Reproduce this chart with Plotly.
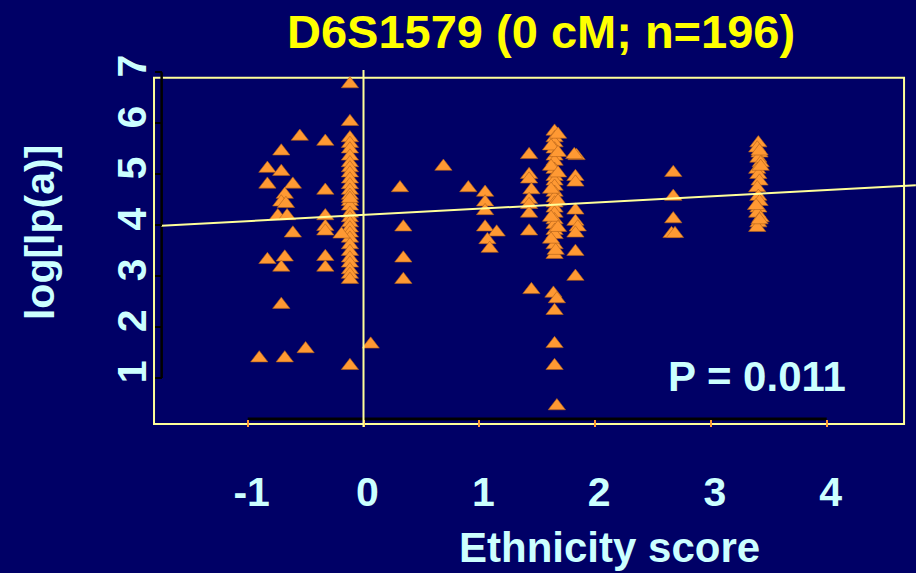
import plotly.graph_objects as go

# ---------------- data ----------------
x_left = [-0.55, -0.33, -0.71, -0.83, -0.71, -0.83, -0.61, -0.33, -0.68, -0.71,
          -0.67, -0.74, -0.66, -0.33, -0.33, -0.33, -0.61, -0.83, -0.68, -0.71,
          -0.33, -0.33, -0.71, -0.50, -0.90, -0.68]
y_left = [5.74, 5.64, 5.45, 5.11, 5.05, 4.80, 4.80, 4.68, 4.60, 4.45,
          4.42, 4.18, 4.18, 4.18, 3.97, 3.88, 3.84, 3.32, 3.37, 3.17,
          3.38, 3.17, 2.44, 1.57, 1.39, 1.39]

x_col0 = [-0.117] * 30 + [-0.19, 0.062]
y_col0 = [6.77, 6.03, 5.71, 5.60, 5.49, 5.35, 5.22, 5.12, 5.02, 4.90,
          4.79, 4.68, 4.58, 4.46, 4.37, 4.23, 4.14, 4.04, 3.94, 3.84,
          3.74, 3.61, 3.48, 3.35, 3.25, 3.12, 3.03, 2.93, 1.24, 4.52,
          3.82, 1.66]

x_mid = [0.315, 0.344, 0.344, 0.344, 0.69, 0.905, 1.05, 1.05, 1.05, 1.05,
         1.15, 1.07, 1.09]
y_mid = [4.73, 3.96, 3.35, 2.93, 5.15, 4.73, 4.64, 4.45, 4.28, 3.96,
         3.86, 3.71, 3.54]

x_c14 = [1.43, 1.43, 1.43, 1.45, 1.43, 1.43, 1.43, 1.43, 1.45]
y_c14 = [5.38, 4.99, 4.90, 4.69, 4.50, 4.40, 4.23, 3.88, 2.73]

x_c16 = [1.65] * 21 + [1.64, 1.67, 1.65, 1.65, 1.65, 1.67] + [1.68, 1.62, 1.68, 1.62, 1.68, 1.62, 1.68, 1.62, 1.68, 1.62, 1.66]
y_c16 = [5.84, 5.71, 5.61, 5.49, 5.35, 5.25, 5.09, 4.95, 4.86, 4.76,
         4.64, 4.53, 4.43, 4.33, 4.23, 4.10, 4.01, 3.89, 3.81, 3.61,
         3.42, 2.66, 2.55, 2.32, 1.67, 1.24, 0.45,
         5.78, 5.55, 5.42, 5.15, 5.02, 4.70, 4.47, 4.15, 3.95, 3.72, 3.50]

x_c18 = [1.84, 1.82, 1.83, 1.83, 1.83, 1.83, 1.85, 1.83, 1.83, 1.83]
y_c18 = [5.36, 5.38, 4.95, 4.84, 4.29, 4.07, 3.96, 3.84, 3.48, 2.99]

x_c27 = [2.675, 2.675, 2.675, 2.66, 2.69]
y_c27 = [5.03, 4.56, 4.12, 3.83, 3.83]

x_c34 = [3.41, 3.40, 3.42, 3.41, 3.43, 3.40, 3.41, 3.42, 3.40, 3.41,
         3.42, 3.41, 3.40, 3.43, 3.41, 3.40, 3.42, 3.43, 3.39, 3.42]
y_c34 = [5.61, 5.51, 5.41, 5.31, 5.22, 5.09, 4.99, 4.86, 4.73, 4.56,
         4.46, 4.33, 4.23, 4.14, 4.04, 3.95, 5.45, 5.15, 4.38, 4.10]

xs = x_left + x_col0 + x_mid + x_c14 + x_c16 + x_c18 + x_c27 + x_c34
ys = y_left + y_col0 + y_mid + y_c14 + y_c16 + y_c18 + y_c27 + y_c34

# regression line
intercept = 4.20
slope = 0.122
fit_x = [-1.745, 4.77]
fit_y = [intercept + slope * v for v in fit_x]

x_ticks = [-1, 0, 1, 2, 3, 4]
x_tick_labels = ["-1", "0", "1", "2", "3", "4"]
y_ticks = [1, 2, 3, 4, 5, 6, 7]

title_text = "D6S1579 (0 cM; n=196)"
x_title = "Ethnicity score"
y_title = "log[lp(a)]"
p_text = "P = 0.011"

# ---------------- styling ----------------
BG = "#000066"
ORANGE = "#FF9933"
PALE = "#FFFF99"
CYAN = "#CCFFFF"
FONT = "Liberation Sans, Arial, sans-serif"

fig = go.Figure()
fig.add_trace(go.Scatter(
    x=xs, y=ys, mode="markers",
    marker=dict(symbol="triangle-up", size=15, color=ORANGE,
                line=dict(width=0.6, color="#B0601A")),
    hoverinfo="skip", showlegend=False))
fig.add_trace(go.Scatter(
    x=fit_x, y=fit_y, mode="lines",
    line=dict(color=PALE, width=2), hoverinfo="skip", showlegend=False))

fig.update_layout(
    width=916, height=573,
    margin=dict(l=150, r=0, t=60, b=133),
    paper_bgcolor=BG, plot_bgcolor=BG,
    showlegend=False,
    xaxis=dict(range=[-1.8437, 4.7712], showgrid=False, zeroline=False,
               showline=False, tickmode="array", tickvals=x_ticks,
               ticktext=x_tick_labels,
               ticks="outside", ticklen=7, tickwidth=1.5, tickcolor=ORANGE,
               anchor="free", position=0.0553,
               ticklabelstandoff=30, ticklabelshift=4,
               tickfont=dict(family=FONT, size=41, color=CYAN, weight="bold")),
    yaxis=dict(range=[-0.2169, 7.2414], showgrid=False, zeroline=False,
               showline=False, tickmode="array", tickvals=y_ticks,
               ticks="outside", ticklen=7, tickwidth=2, tickcolor="black",
               anchor="free", position=0.01527, tickangle=-90,
               ticklabelstandoff=-8, ticklabelshift=0,
               tickfont=dict(family=FONT, size=41, color=CYAN, weight="bold")),
    shapes=[
        dict(type="rect", xref="x", yref="y", x0=-1.809, x1=4.668, y0=0.097, y1=6.894,
             line=dict(color=PALE, width=2), layer="below"),
        dict(type="line", xref="x", yref="y", x0=0, x1=0, y0=0.038, y1=7.045,
             line=dict(color=PALE, width=2), layer="above"),
        dict(type="line", xref="x", yref="y", x0=-1.743, x1=-1.743, y0=1, y1=7,
             line=dict(color="black", width=2.5), layer="below"),
        dict(type="line", xref="x", yref="y", x0=-1, x1=4, y0=0.195, y1=0.195,
             line=dict(color="black", width=3), layer="below"),
    ],
    annotations=[
        dict(text=title_text, xref="paper", yref="paper", x=0.5104, y=1.0763,
             xanchor="center", yanchor="middle", showarrow=False,
             font=dict(family=FONT, size=47, color="#FFFF00", weight="bold")),
        dict(text=x_title, xref="paper", yref="paper", x=0.6005, y=-0.2842,
             xanchor="center", yanchor="middle", showarrow=False,
             font=dict(family=FONT, size=42, color=CYAN, weight="bold")),
        dict(text=y_title, xref="paper", yref="paper", x=-0.1436, y=0.5447,
             xanchor="center", yanchor="middle", showarrow=False, textangle=-90,
             font=dict(family=FONT, size=41, color=CYAN, weight="bold")),
        dict(text=p_text, xref="paper", yref="paper", x=0.792, y=0.1666,
             xanchor="center", yanchor="middle", showarrow=False,
             font=dict(family=FONT, size=42, color=CYAN, weight="bold")),
    ],
)

fig.write_html("out.html")
